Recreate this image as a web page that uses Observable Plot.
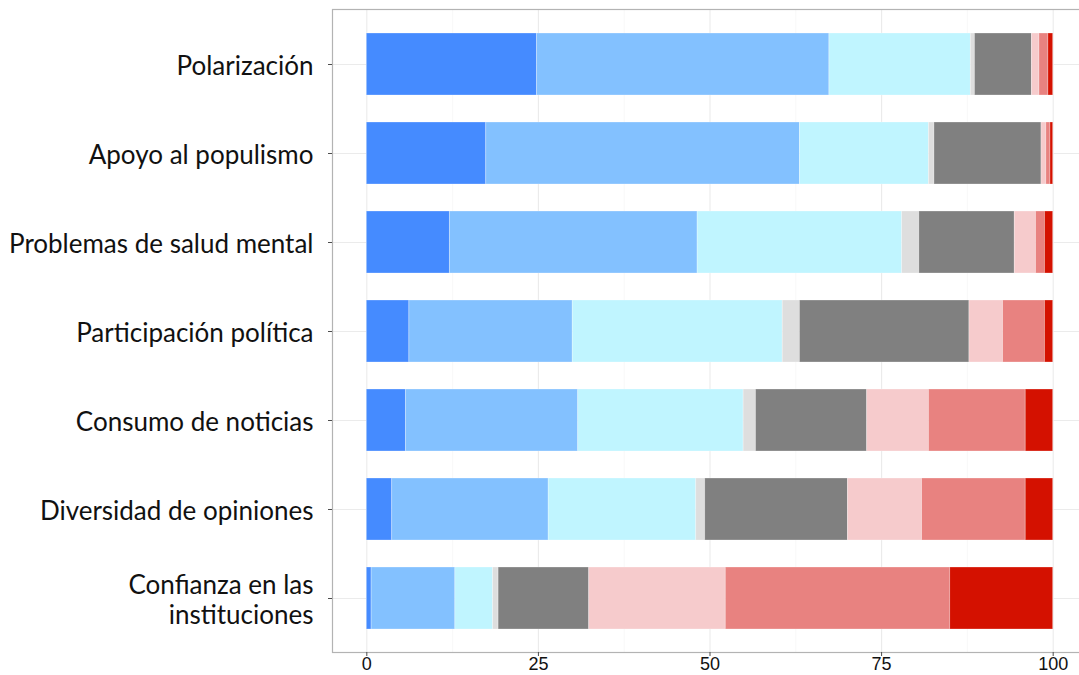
<!DOCTYPE html>
<html>
<head>
<meta charset="utf-8">
<script src="https://cdn.jsdelivr.net/npm/d3@7"></script>
<script src="https://cdn.jsdelivr.net/npm/@observablehq/plot@0.6"></script>
<style>
  html, body { margin: 0; padding: 0; background: #fff; overflow: hidden; }
</style>
</head>
<body>
<div id="chart"></div>
<script>
const categories = [
  "Polarización",
  "Apoyo al populismo",
  "Problemas de salud mental",
  "Participación política",
  "Consumo de noticias",
  "Diversidad de opiniones",
  "Confianza en las\ninstituciones"
];
const responses = ["r1", "r2", "r3", "r4", "r5", "r6", "r7", "r8"];
const colors = ["#458bff", "#83c1ff", "#c0f5ff", "#dedede", "#808080", "#f6cbcc", "#e88280", "#d41100"];

const polarizacion   = [24.8, 42.6, 20.6, 0.6,  8.3,  1.1,  1.3,  0.7];
const populismo      = [17.4, 45.7, 18.8, 0.8, 15.6,  0.7,  0.6,  0.4];
const saludMental    = [12.1, 36.1, 29.8, 2.5, 13.9,  3.1,  1.3,  1.2];
const participacion  = [ 6.2, 23.8, 30.6, 2.5, 24.7,  4.9,  6.1,  1.2];
const noticias       = [ 5.7, 25.1, 24.1, 1.8, 16.2,  9.0, 14.1,  4.0];
const diversidad     = [ 3.7, 22.8, 21.5, 1.3, 20.8, 10.8, 15.1,  4.0];
const confianza      = [ 0.7, 12.2,  5.5, 0.8, 13.2, 19.9, 32.7, 15.0];

const xTicks = [0, 25, 50, 75, 100];
const xMinor = [12.5, 37.5, 62.5, 87.5];

const series = [polarizacion, populismo, saludMental, participacion, noticias, diversidad, confianza];
const rows = [];
categories.forEach((c, i) => {
  series[i].forEach((v, j) => rows.push({cat: c, resp: responses[j], value: v}));
});

const chart = Plot.plot({
  width: 1079,
  height: 675,
  marginLeft: 332,
  marginRight: -8,
  marginTop: 9,
  marginBottom: 23,
  style: {background: "#fff", fontFamily: "Liberation Sans, Arial, sans-serif"},
  x: {domain: [-5, 105], axis: null},
  y: {domain: categories, paddingInner: 0.306, paddingOuter: 0.253, axis: null},
  color: {domain: responses, range: colors},
  marks: [
    Plot.gridX(xMinor, {stroke: "#f3f3f3", strokeOpacity: 1, strokeWidth: 0.6}),
    Plot.gridX(xTicks, {stroke: "#ebebeb", strokeOpacity: 1, strokeWidth: 1.1}),
    Plot.gridY(categories, {stroke: "#ebebeb", strokeOpacity: 1, strokeWidth: 1.1}),
    Plot.barX(rows, Plot.stackX({
      x: "value", y: "cat", fill: "resp",
      stroke: "white", strokeOpacity: 0.35, strokeWidth: 0.8
    })),
    Plot.frame({stroke: "#b3b3b3", strokeWidth: 1.2}),
    Plot.axisY(categories, {tickSize: 4, tickFormat: () => "", stroke: "#4d4d4d", label: null}),
    Plot.axisX(xTicks, {tickSize: 4, tickPadding: 1, stroke: "#4d4d4d", fill: "#111", fontSize: 18, label: null}),
    Plot.text(categories, {
      y: d => d, frameAnchor: "left", dx: -19, dy: 1, textAnchor: "end",
      fontSize: 26, lineHeight: 1.15, fill: "#111",
      fontFamily: "Lato, sans-serif"
    })
  ]
});
document.getElementById("chart").appendChild(chart);
</script>
</body>
</html>
